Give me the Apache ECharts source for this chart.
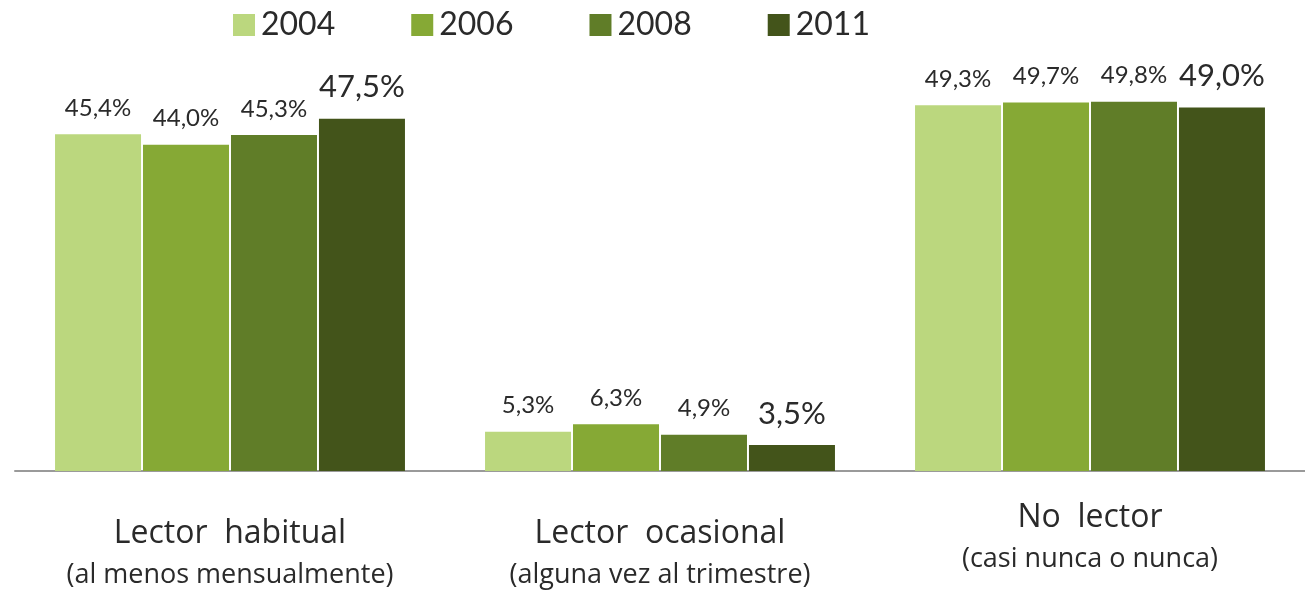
<!DOCTYPE html>
<html>
<head>
<meta charset="utf-8">
<style>
  html, body { margin: 0; padding: 0; background: #fff; }
  #chart { width: 1305px; height: 590px; }
</style>
<script src="https://cdn.jsdelivr.net/npm/echarts@6/dist/echarts.min.js"></script>
</head>
<body>
<div id="chart"></div>
<script>
const categories = ['Lector  habitual', 'Lector  ocasional', 'No  lector']
const subtitles = ['(al menos mensualmente)', '(alguna vez al trimestre)', '(casi nunca o nunca)']
const years = ['2004', '2006', '2008', '2011']
const values2004 = [45.4, 5.3, 49.3]
const values2006 = [44.0, 6.3, 49.7]
const values2008 = [45.3, 4.9, 49.8]
const values2011 = [47.5, 3.5, 49.0]

const colors = ['#bbd77e', '#86a935', '#607d28', '#43541a']
const textColor = '#2a2a2a'
const font = 'Lato'
const axisFont = 'Open Sans'

const chart = echarts.init(document.getElementById('chart'))

function fmt(v) {
  return v.toFixed(1).replace('.', ',') + '%'
}

const seriesValues = [values2004, values2006, values2008, values2011]
const series = seriesValues.map((vals, i) => {
  const big = i === 3
  return {
    name: years[i],
    type: 'bar',
    data: vals,
    barWidth: 86,
    barGap: '2.3%',
    itemStyle: { color: colors[i] },
    label: {
      show: true,
      position: 'top',
      distance: big ? 16 : 14,
      color: textColor,
      fontFamily: font,
      fontSize: big ? 31 : 24,
      formatter: p => fmt(p.value)
    }
  }
})

chart.setOption({
  animation: false,
  legend: {
    left: 228,
    top: 4,
    itemWidth: 22,
    itemHeight: 22,
    itemGap: 76,
    icon: 'rect',
    textStyle: { color: textColor, fontFamily: font, fontSize: 32, padding: [0, 0, 0, 1] },
    data: years
  },
  grid: {
    left: 15,
    right: 0,
    top: 26,
    bottom: 119
  },
  xAxis: {
    type: 'category',
    data: categories,
    axisTick: { show: false },
    axisLine: { lineStyle: { color: '#9a9a9a', width: 2 } },
    axisLabel: {
      margin: 25,
      interval: 0,
      color: textColor,
      fontFamily: axisFont,
      formatter: (value, index) => {
        const pad = index === 2 ? '' : '{s| }\n'
        return pad + '{a|' + value + '}\n{b|' + subtitles[index] + '}'
      },
      rich: {
        s: { fontSize: 1, lineHeight: 16 },
        a: { fontSize: 32, lineHeight: 44, color: textColor, fontFamily: axisFont },
        b: { fontSize: 27, lineHeight: 38, color: textColor, fontFamily: axisFont }
      }
    }
  },
  yAxis: {
    type: 'value',
    min: 0,
    max: 60,
    show: false,
    splitLine: { show: false }
  },
  series: series
})
</script>
</body>
</html>
